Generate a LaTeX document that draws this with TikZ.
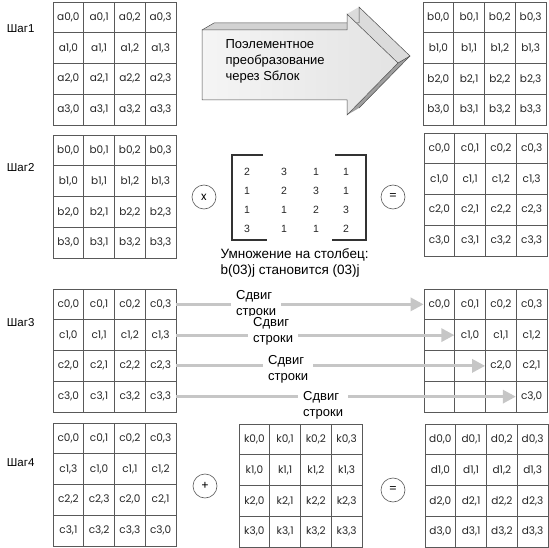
\documentclass[tikz,border=0pt]{standalone}
\usepackage{fontspec}
\setmainfont{Liberation Sans}
\newfontfamily\cellfont{Poppins}
\usetikzlibrary{arrows.meta}

% one 4x4 state: name, left x, top y, letter, mode (0 plain, 1 rotated, 2 shifted)
\newcommand{\stategrid}[5]{%
  \foreach \r in {0,...,3}{%
    \foreach \c in {0,...,3}{%
      \pgfmathtruncatemacro{\k}{(#5==1) ? mod(\c-\r+4,4) : ((#5==2) ? \c-\r : \c)}%
      \node[cell] (#1-\r-\c) at ({#2+(\c+0.5)*30.75},{#3+(\r+0.5)*30.75})
        {\ifnum\k<0\relax\else #4\r,\k\fi};
    }%
  }%
}

\begin{document}
\begin{tikzpicture}[x=1pt,y=-1pt,
  cell/.style={draw=gray!70!black,line width=0.7pt,minimum width=30.75pt,minimum height=30.75pt,
    inner sep=0pt,text=black!85,font=\cellfont\fontsize{10.5}{12}\selectfont},
  steplabel/.style={anchor=east,font=\fontsize{11.5}{13}\selectfont},
  opcirc/.style={circle,draw=gray!70!black,line width=0.6pt,minimum size=24pt,inner sep=0pt,
    font=\cellfont\fontsize{11.5}{13}\selectfont},
  bracket/.style={draw=black!80,line width=2.6pt},
  mixnum/.style={font=\fontsize{10.5}{12}\selectfont,text=black!85},
  shiftarrow/.style={draw=gray!45,line width=3pt,-{Triangle[length=13pt,width=13pt]}},
  shiftlabel/.style={anchor=west,fill=white,inner xsep=5pt,inner ysep=1pt,align=left,
    font=\fontsize{13}{16}\selectfont}]
\useasboundingbox (0,0) rectangle (549,548);

% step labels
\node[steplabel] (s1) at (38,29) {Шаг1};
\node[steplabel] (s2) at (38,168) {Шаг2};
\node[steplabel] (s3) at (38,323) {Шаг3};
\node[steplabel] (s4) at (38,463) {Шаг4};

% step 1
\stategrid{a}{53}{2}{a}{0}
\stategrid{b}{423}{2}{b}{0}
\fill[gray!35] (202,30) -- (347,30) -- (359,23) -- (214,23) -- cycle;
\fill[gray!28] (347,14) -- (398,63) -- (410,56) -- (359,7) -- cycle;
\fill[gray!75] (398,63) -- (347,115) -- (359,108) -- (410,56) -- cycle;
\draw[gray!60!black,line width=0.5pt] (202,30) -- (214,23) -- (359,23) -- (359,7) -- (410,56) -- (359,108);
\shade[left color=gray!8,right color=gray!22] (202,30) -- (347,30) -- (347,14) -- (398,63)
  -- (347,115) -- (347,100) -- (202,100) -- cycle;
\draw[gray!60!black,line width=0.5pt] (202,30) -- (347,30) -- (347,14) -- (398,63)
  -- (347,115) -- (347,100) -- (202,100) -- cycle;
\draw[gray!60!black,line width=0.5pt] (398,63) -- (410,56);
\node[anchor=west,align=left,font=\fontsize{13}{16}\selectfont] (sbox) at (222,61)
  {Поэлементное\\преобразование\\через Sблок};

% step 2
\stategrid{b2}{53}{135}{b}{0}
\stategrid{c}{424}{133}{c}{0}
\node[opcirc] (times) at (204,197) {x};
\node[opcirc] (eq2) at (393,197) {=};
\draw[bracket] (263,155) -| (232,240) -- (267,240);
\draw[bracket] (335,155) -| (366,240) -- (332,240);
\foreach \p/\q/\s/\t [count=\r from 0] in {2/3/1/1,1/2/3/1,1/1/2/3,3/1/1/2}{
  \pgfmathsetmacro{\yy}{172+\r*19}
  \node[mixnum] (mix-\r-0) at (247,\yy) {\p};
  \node[mixnum] (mix-\r-1) at (284,\yy) {\q};
  \node[mixnum] (mix-\r-2) at (316,\yy) {\s};
  \node[mixnum] (mix-\r-3) at (346,\yy) {\t};
}
\node[anchor=west,align=left,font=\fontsize{13.5}{16}\selectfont] (mixtext) at (217,263)
  {Умножение на столбец:\\b(03)j становится (03)j};

% step 3
\stategrid{c3l}{53}{289}{c}{0}
\stategrid{c3r}{424}{289}{c}{2}
\draw[shiftarrow] (c3l-0-3.east) -- (c3r-0-0.west);
\draw[shiftarrow] (c3l-1-3.east) -- (c3r-1-1.west);
\draw[shiftarrow] (c3l-2-3.east) -- (c3r-2-2.west);
\draw[shiftarrow] (c3l-3-3.east) -- (c3r-3-3.west);
\node[shiftlabel] (sh0) at (231,304) {Сдвиг\\строки};
\node[shiftlabel] (sh1) at (248,331) {Сдвиг\\строки};
\node[shiftlabel] (sh2) at (263,369) {Сдвиг\\строки};
\node[shiftlabel] (sh3) at (298,405) {Сдвиг\\строки};

% step 4
\stategrid{c4}{53}{423}{c}{1}
\stategrid{k}{239}{424}{k}{0}
\stategrid{d}{425}{424}{d}{0}
\node[opcirc] (plus) at (205,486) {+};
\node[opcirc] (eq4) at (393,490) {=};
\end{tikzpicture}
\end{document}
